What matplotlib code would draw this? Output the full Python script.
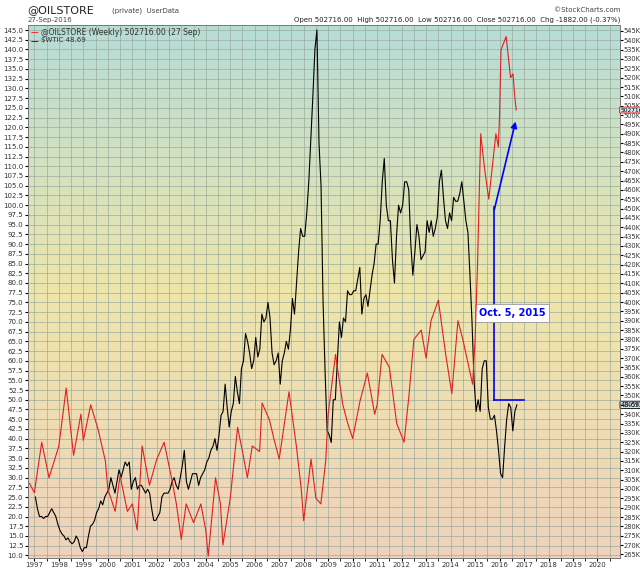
import numpy as np
import matplotlib.pyplot as plt
from matplotlib.colors import LinearSegmentedColormap

# $WTIC monthly estimates, Jan 1997 .. Sep 2016
wtic = [25, 22, 20, 20, 19.5, 20, 20, 21, 22, 21, 20, 18,
        16.5, 15.5, 15, 14, 14.5, 13.5, 13, 13.5, 15, 14, 12, 11,
        12, 12, 15, 17.5, 18, 19, 21, 22, 24, 23, 25, 26,
        27, 30, 28, 26, 29, 32, 30, 32, 34, 33, 34, 27,
        29, 30, 27, 28, 28, 27, 26, 27, 26, 22, 19, 19,
        20, 21, 25, 26, 26, 26, 27, 29, 30, 28, 27, 30,
        33, 37, 29, 27, 29, 31, 31, 31, 28, 30, 31, 32,
        34, 35, 37, 38, 40, 37, 41, 46, 47, 54, 48, 43,
        47, 49, 56, 52, 49, 58, 60, 67, 65, 62, 58, 60,
        66, 61, 63, 72, 70, 71, 75, 71, 62, 59, 60, 62,
        54, 60, 62, 65, 63, 68, 76, 72, 80, 88, 94, 92,
        92, 98, 106, 117, 128, 140, 145, 116, 105, 75, 57, 42,
        41, 39, 50, 50, 60, 70, 66, 71, 70, 78, 77, 77,
        78, 78, 81, 84, 72, 76, 77, 74, 78, 82, 85, 90,
        90, 96, 106, 112, 100, 96, 96, 86, 80, 92, 100, 98,
        100, 106, 106, 104, 90, 82, 88, 95, 92, 86, 87, 88,
        96, 93, 96, 92, 94, 97, 106, 109, 102, 96, 94, 98,
        96, 102, 101, 101, 103, 106, 101, 96, 93, 82, 70, 55,
        47, 50, 47, 58, 60, 60, 48, 45, 45, 46, 42, 37,
        31, 30, 38, 45, 49, 48, 42, 47, 48.69]
wtic_dates = [1997 + (i + 0.5) / 12 for i in range(len(wtic))]

# @OILSTORE estimates (thousands)
store_dates = [1996.8, 1997.0, 1997.3, 1997.6, 1998.0, 1998.3, 1998.6, 1998.9, 1999.0, 1999.3,
               1999.6, 1999.9, 2000.0, 2000.3, 2000.5, 2000.8, 2001.0, 2001.2, 2001.4, 2001.7,
               2002.0, 2002.3, 2002.6, 2002.8, 2003.0, 2003.2, 2003.5, 2003.8, 2004.0, 2004.1,
               2004.4, 2004.6, 2004.7, 2005.0, 2005.3, 2005.5, 2005.7, 2005.9, 2006.2, 2006.3,
               2006.6, 2006.8, 2007.0, 2007.4, 2007.7, 2007.9, 2008.0, 2008.3, 2008.5, 2008.7,
               2008.9, 2009.0, 2009.3, 2009.6, 2009.8, 2010.0, 2010.3, 2010.6, 2010.9, 2011.0,
               2011.2, 2011.5, 2011.8, 2012.1, 2012.3, 2012.5, 2012.8, 2013.0, 2013.2, 2013.5,
               2013.8, 2014.05, 2014.3, 2014.5, 2014.8, 2014.9, 2015.0, 2015.1, 2015.23, 2015.4,
               2015.56, 2015.85, 2015.95, 2016.0, 2016.06, 2016.27, 2016.45, 2016.55, 2016.62, 2016.68]
store = [303, 298, 325, 306, 323, 354, 318, 340, 326, 345,
         332, 315, 300, 288, 307, 288, 292, 278, 323, 302,
         316, 325, 306, 292, 273, 292, 282, 292, 278, 264,
         306, 292, 270, 295, 333, 320, 306, 323, 320, 346,
         337, 326, 316, 352, 323, 300, 283, 316, 295, 292,
         315, 340, 372, 345, 335, 327, 347, 362, 340, 345,
         372, 365, 335, 325, 350, 380, 385, 370, 390, 401,
         372, 351, 390, 380, 362, 356, 380, 420, 490, 470,
         455, 490, 483, 500, 535, 542, 520, 522, 510, 502.716]

fig = plt.figure(figsize=(6.4, 5.76), dpi=100)
ax = fig.add_axes([0.043, 0.031, 0.925, 0.925])
ax2 = ax.twinx()

cmap = LinearSegmentedColormap.from_list("bg", ["#b6dcd8", "#eee6aa", "#eed2bc"])
ax.imshow(np.linspace(0, 1, 256).reshape(-1, 1), cmap=cmap, aspect="auto",
          extent=[0, 1, 0, 1], transform=ax.transAxes, zorder=0)

xmin, xmax = 1996.72, 2020.9
ax.set_xlim(xmin, xmax)
ax.set_ylim(9.3, 146.2)
ax2.set_ylim(263, 548)

ax.set_xticks(np.arange(1997, 2021))
ax.set_xticks(np.arange(1997.5, 2021), minor=True)
ax.set_xticklabels([str(y) for y in range(1997, 2021)], fontsize=5, color="#333333")
ax.set_yticks(np.arange(10, 145.1, 2.5))
ax.set_yticklabels(["%.1f" % v for v in np.arange(10, 145.1, 2.5)], fontsize=5, color="#333333")
ax2.set_yticks(np.arange(265, 546, 5))
ax2.set_yticklabels(["%dK" % v for v in range(265, 546, 5)], fontsize=4.8, color="#333333")
ax.grid(True, which="both", axis="x", color="#9aaa9a", lw=0.6, alpha=0.8)
ax.grid(True, axis="y", color="#9aaa9a", lw=0.6, alpha=0.8)
ax.tick_params(length=2, pad=1)
ax2.tick_params(length=2, pad=1)
for a in (ax, ax2):
    for s in a.spines.values():
        s.set_color("#777777")
        s.set_linewidth(0.6)

ax.plot(wtic_dates, wtic, color="black", lw=0.8, zorder=3)
ax2.plot(store_dates, store, color="#e02020", lw=0.8, zorder=3)

# annotations
oct5 = 2015.76
ax.plot([oct5, oct5], [50, 99.6], color="blue", lw=1.2, zorder=4)
ax.plot([oct5, 2017.0], [50, 50], color="blue", lw=1.2, zorder=4)
ax2.annotate("", xy=(2016.68, 498), xytext=(oct5, 448),
             arrowprops=dict(arrowstyle="-|>", color="blue", lw=1.2, mutation_scale=9), zorder=5)
ax.text(2015.15, 71.5, "Oct. 5, 2015", color="blue", fontsize=7, fontweight="bold",
        bbox=dict(boxstyle="square,pad=0.4", fc="white", ec="#999999", lw=0.6), zorder=6)

# last value tags
ax2.text(1.001, 502.716, "502716.0", transform=ax2.get_yaxis_transform(), fontsize=4.2,
         va="center", ha="left", bbox=dict(boxstyle="round,pad=0.08", fc="#cfe6ee", ec="red", lw=0.6))
ax.text(1.002, 48.69, "48.69", transform=ax.get_yaxis_transform(), fontsize=4.8,
        va="center", ha="left", bbox=dict(boxstyle="round,pad=0.1", fc="#cfe6ee", ec="black", lw=0.6))

# legend lines
ax.text(0.005, 0.995, "\u2014", color="red", transform=ax.transAxes, fontsize=5.5, va="top")
ax.text(0.022, 0.995, "@OILSTORE (Weekly) 502716.00 (27 Sep)", transform=ax.transAxes,
        fontsize=5.5, va="top", color="#333333")
ax.text(0.005, 0.978, "\u2014", color="black", transform=ax.transAxes, fontsize=5.5, va="top")
ax.text(0.022, 0.978, "$WTIC 48.69", transform=ax.transAxes, fontsize=5, va="top", color="#333333")

# header
fig.text(0.043, 0.978, "@OILSTORE", fontsize=8, color="#222222")
fig.text(0.175, 0.979, "(private)  UserData", fontsize=5, color="#444444")
fig.text(0.043, 0.962, "27-Sep-2016", fontsize=5, color="#444444")
fig.text(0.97, 0.979, "\u00a9StockCharts.com", fontsize=5, color="#444444", ha="right")
fig.text(0.97, 0.962, "Open 502716.00  High 502716.00  Low 502716.00  Close 502716.00  Chg -1882.00 (-0.37%)",
         fontsize=5, color="#222222", ha="right")

fig.savefig("out.png", dpi=100)
